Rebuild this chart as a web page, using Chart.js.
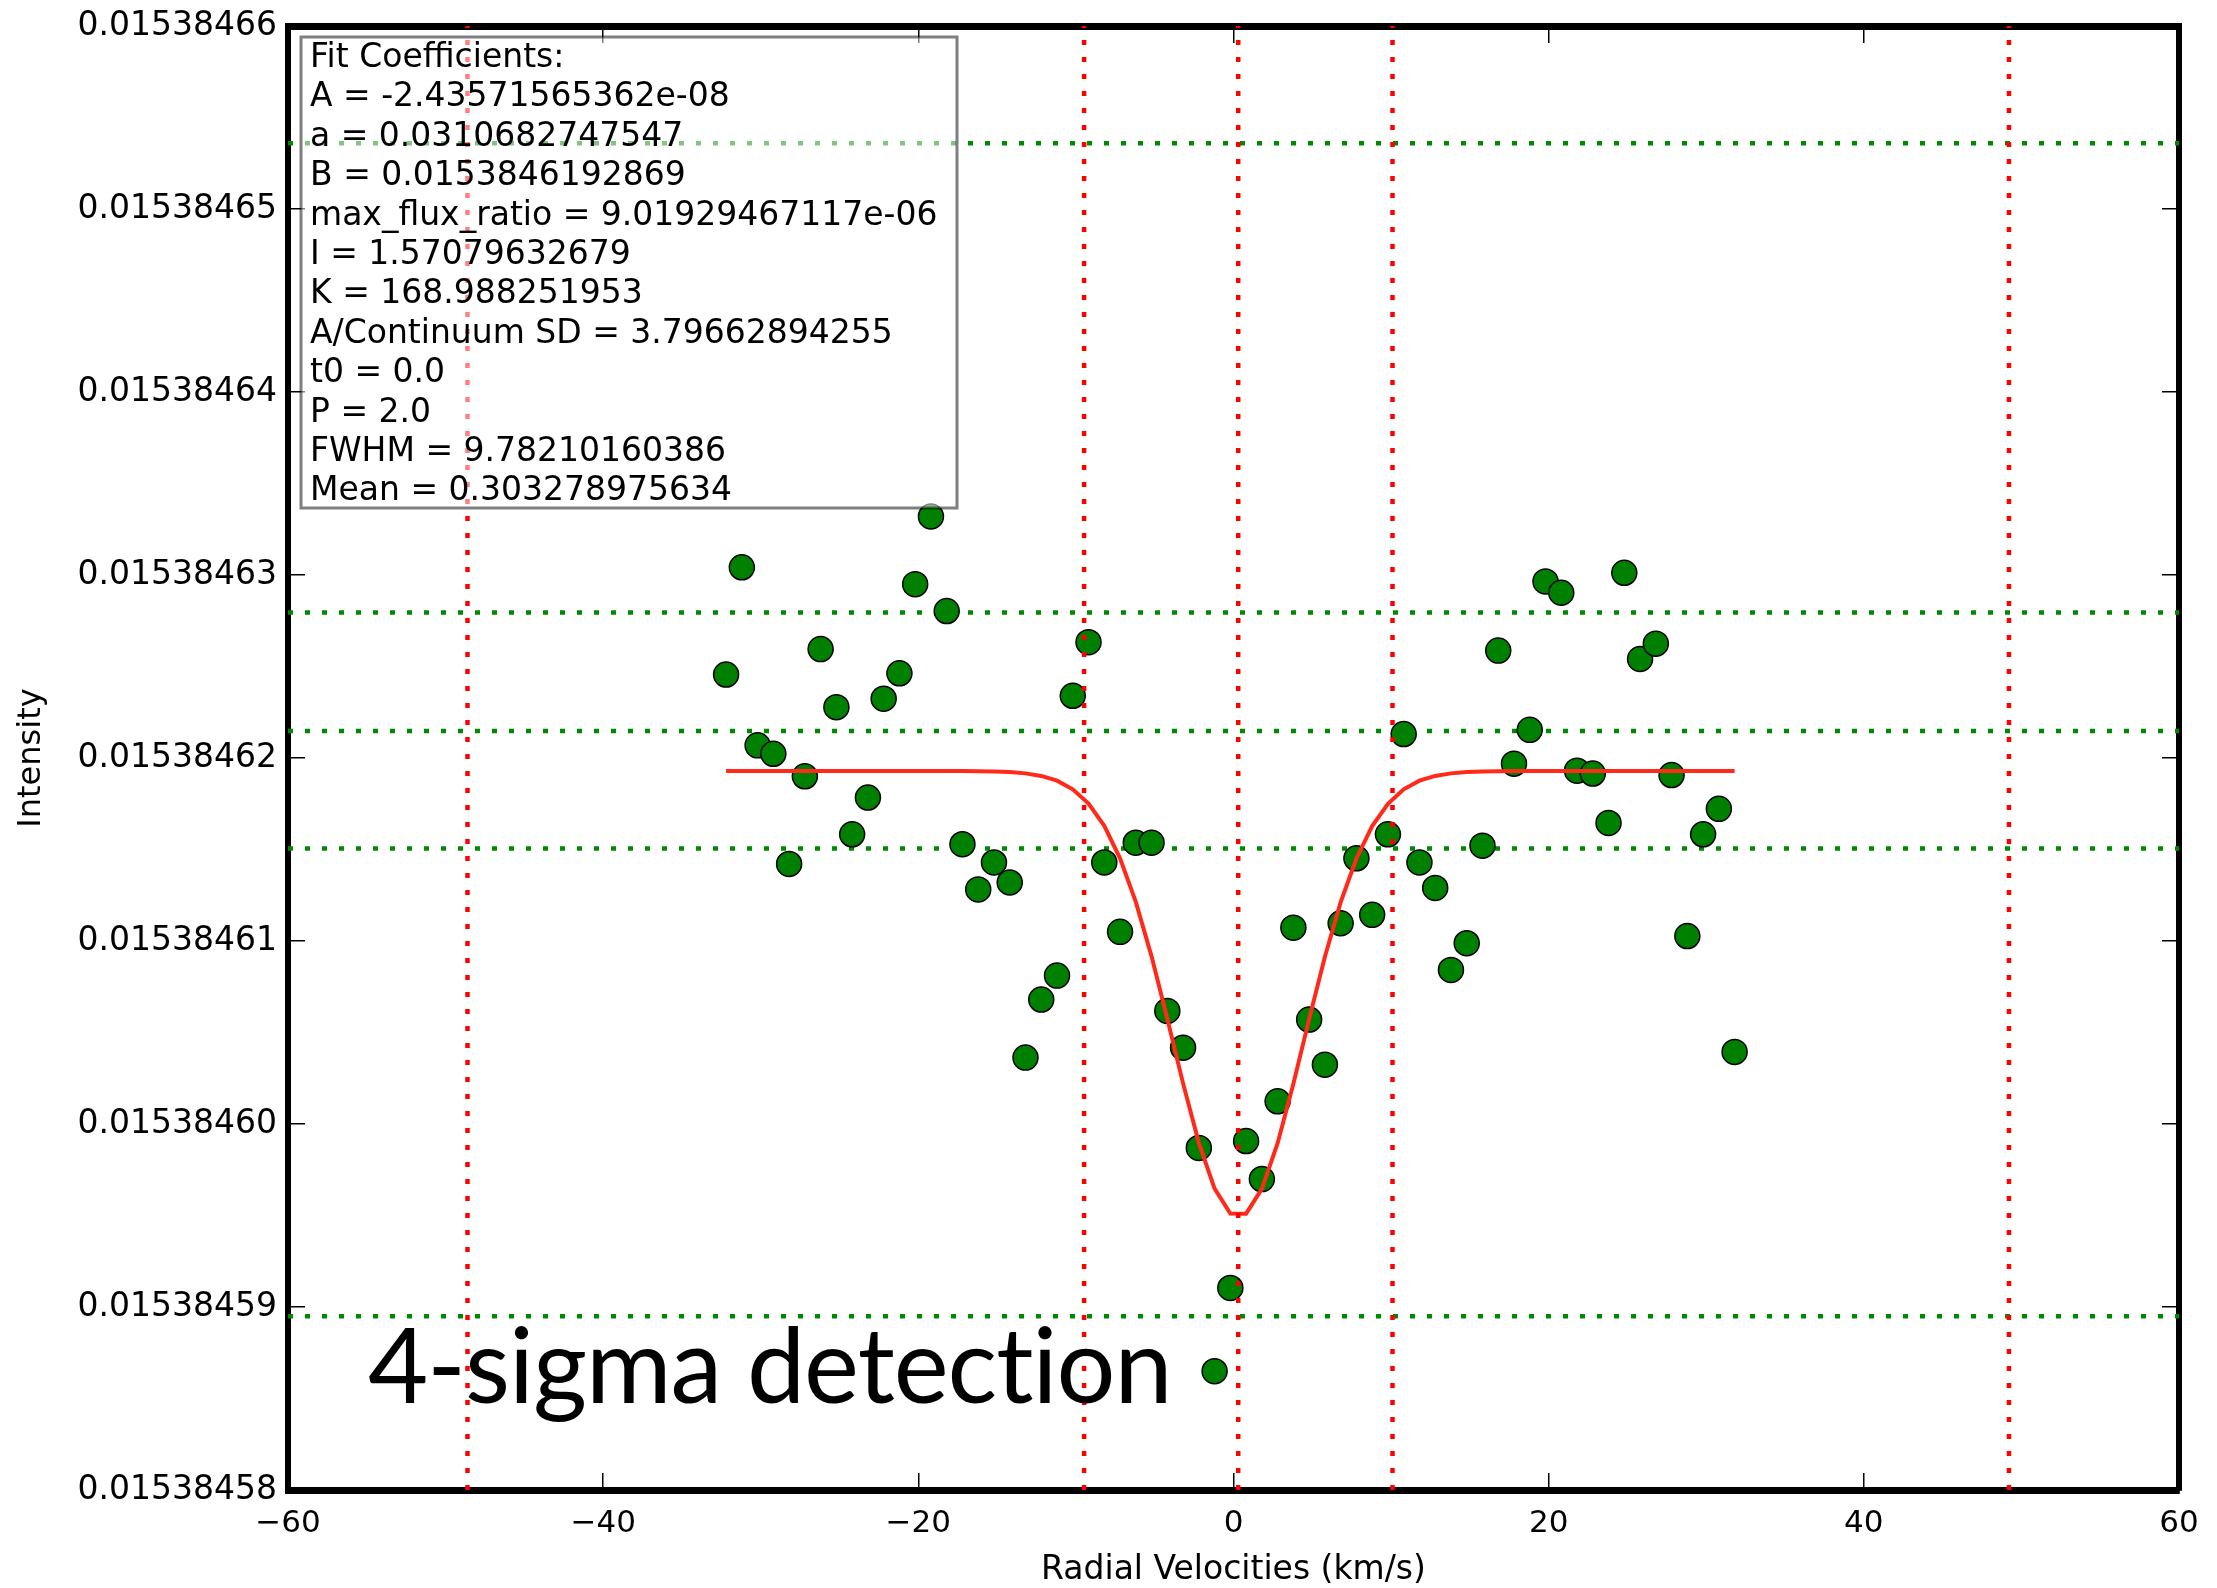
<!DOCTYPE html>
<html>
<head>
<meta charset="utf-8">
<title>Radial velocity fit</title>
<script src="https://cdn.jsdelivr.net/npm/chart.js@4.4.1/dist/chart.umd.min.js"></script>
<style>
  html, body { margin: 0; padding: 0; background: #fff; }
  canvas { display: block; }
</style>
</head>
<body>
<canvas id="rvChart" width="2217" height="1588"></canvas>
<script>
// radial velocity grid (km/s)
const velocities = [
    -32.2, -31.2, -30.2, -29.2, -28.2, -27.2, -26.2, -25.2, -24.2, -23.2,
    -22.2, -21.2, -20.2, -19.2, -18.2, -17.2, -16.2, -15.2, -14.2, -13.2,
    -12.2, -11.2, -10.2, -9.2, -8.2, -7.2, -6.2, -5.2, -4.2, -3.2,
    -2.2, -1.2, -0.2, 0.8, 1.8, 2.8, 3.8, 4.8, 5.8, 6.8,
    7.8, 8.8, 9.8, 10.8, 11.8, 12.8, 13.8, 14.8, 15.8, 16.8,
    17.8, 18.8, 19.8, 20.8, 21.8, 22.8, 23.8, 24.8, 25.8, 26.8,
    27.8, 28.8, 29.8, 30.8, 31.8
];

// measured intensity at each velocity
const intensity = [
    0.01538462456, 0.01538463042, 0.01538462069, 0.01538462023, 0.01538461421,
    0.01538461900, 0.01538462595, 0.01538462278, 0.01538461583, 0.01538461784,
    0.01538462324, 0.01538462463, 0.01538462950, 0.01538463320, 0.01538462803,
    0.01538461529, 0.01538461282, 0.01538461429, 0.01538461320, 0.01538460363,
    0.01538460680, 0.01538460811, 0.01538462340, 0.01538462633, 0.01538461429,
    0.01538461050, 0.01538461537, 0.01538461537, 0.01538460618, 0.01538460417,
    0.01538459869, 0.01538458649, 0.01538459104, 0.01538459907, 0.01538459699,
    0.01538460124, 0.01538461073, 0.01538460571, 0.01538460324, 0.01538461097,
    0.01538461452, 0.01538461143, 0.01538461583, 0.01538462131, 0.01538461429,
    0.01538461290, 0.01538460842, 0.01538460988, 0.01538461521, 0.01538462587,
    0.01538461969, 0.01538462154, 0.01538462965, 0.01538462903, 0.01538461931,
    0.01538461915, 0.01538461645, 0.01538463012, 0.01538462541, 0.01538462625,
    0.01538461907, 0.01538461027, 0.01538461583, 0.01538461722, 0.01538460394
];

// gaussian fit evaluated on the same grid
const fitCurve = [
    0.01538461929, 0.01538461929, 0.01538461929, 0.01538461929, 0.01538461929,
    0.01538461929, 0.01538461929, 0.01538461929, 0.01538461929, 0.01538461929,
    0.01538461929, 0.01538461929, 0.01538461929, 0.01538461929, 0.01538461929,
    0.01538461929, 0.01538461928, 0.01538461926, 0.01538461923, 0.01538461916,
    0.01538461902, 0.01538461876, 0.01538461829, 0.01538461751, 0.01538461629,
    0.01538461452, 0.01538461214, 0.01538460916, 0.01538460575, 0.01538460222,
    0.01538459897, 0.01538459647, 0.01538459511, 0.01538459510, 0.01538459646,
    0.01538459895, 0.01538460220, 0.01538460573, 0.01538460914, 0.01538461212,
    0.01538461451, 0.01538461628, 0.01538461750, 0.01538461829, 0.01538461876,
    0.01538461902, 0.01538461916, 0.01538461923, 0.01538461926, 0.01538461928,
    0.01538461929, 0.01538461929, 0.01538461929, 0.01538461929, 0.01538461929,
    0.01538461929, 0.01538461929, 0.01538461929, 0.01538461929, 0.01538461929,
    0.01538461929, 0.01538461929, 0.01538461929, 0.01538461929, 0.01538461929
];

// continuum mean, +/- 1 sigma and +/- 5 sigma
const sigmaLevels = [0.01538465359, 0.01538462795, 0.01538462147, 0.01538461506, 0.01538458950];
// mean, mean +/- FWHM, mean +/- 5 FWHM
const fwhmMarks = [-48.61, -9.48, 0.30, 10.09, 49.21];

const xTicks = [-60, -40, -20, 0, 20, 40, 60];
const yTicks = [
    0.01538458, 0.01538459, 0.01538460, 0.01538461, 0.01538462,
    0.01538463, 0.01538464, 0.01538465, 0.01538466
];

const fitLines = [
    "Fit Coefficients:",
    "A = -2.43571565362e-08",
    "a = 0.0310682747547",
    "B = 0.0153846192869",
    "max_flux_ratio = 9.01929467117e-06",
    "I = 1.57079632679",
    "K = 168.988251953",
    "A/Continuum SD = 3.79662894255",
    "t0 = 0.0",
    "P = 2.0",
    "FWHM = 9.78210160386",
    "Mean = 0.303278975634"
];

const xMin = xTicks[0], xMax = xTicks[xTicks.length - 1];
const yMin = yTicks[0], yMax = yTicks[yTicks.length - 1];

Chart.defaults.font.family = "'DejaVu Sans', sans-serif";
Chart.defaults.color = "#000";

function minusSign(v) {
    return v < 0 ? "\u2212" + Math.abs(v) : String(v);
}

// fixed axis sizes, no extra room for labels that hang over the ends
function fixSize(size) {
    return s => {
        if (s.isHorizontal()) s.height = size; else s.width = size;
        s.paddingTop = 0;
        s.paddingBottom = 0;
        s.paddingLeft = 0;
        s.paddingRight = 0;
    };
}

const tickGrid = {
    display: true,
    drawOnChartArea: false,
    drawTicks: true,
    tickLength: -17,
    color: "#000",
    lineWidth: 1.5
};

// text box with the fit coefficients, drawn over the lines
const fitBox = {
    id: "fitBox",
    afterDatasetsDraw(chart) {
        const ctx = chart.ctx;
        ctx.save();
        ctx.fillStyle = "rgba(255,255,255,0.5)";
        ctx.fillRect(301, 37, 656, 471);
        ctx.strokeStyle = "rgba(0,0,0,0.5)";
        ctx.lineWidth = 3;
        ctx.strokeRect(301, 37, 656, 471);
        ctx.fillStyle = "#000";
        ctx.font = "33px 'DejaVu Sans'";
        ctx.textBaseline = "alphabetic";
        fitLines.forEach((line, i) => {
            ctx.fillText(line, 310, 67 + i * 39.4);
        });
        ctx.restore();
    }
};

const detectionLabel = {
    id: "detectionLabel",
    afterDraw(chart) {
        const ctx = chart.ctx;
        ctx.save();
        ctx.fillStyle = "#000";
        ctx.font = "104px Lato";
        ctx.letterSpacing = "-1px";
        ctx.textBaseline = "alphabetic";
        ctx.fillText("4-sigma detection", 368, 1403);
        ctx.restore();
    }
};

const datasets = [];

sigmaLevels.forEach(level => {
    datasets.push({
        data: [{ x: xMin, y: level }, { x: xMax, y: level }],
        showLine: true,
        borderColor: "#008a00",
        borderWidth: 4.5,
        borderDash: [5, 12],
        pointRadius: 0,
        order: 4
    });
});

datasets.push({
    data: velocities.map((v, i) => ({ x: v, y: intensity[i] })),
    pointRadius: 12.5,
    pointBackgroundColor: "#008000",
    pointBorderColor: "#000",
    pointBorderWidth: 1.5,
    order: 3
});

datasets.push({
    data: velocities.map((v, i) => ({ x: v, y: fitCurve[i] })),
    showLine: true,
    borderColor: "#ff2a1a",
    borderWidth: 4,
    tension: 0,
    pointRadius: 0,
    order: 2
});

fwhmMarks.forEach(v => {
    datasets.push({
        data: [{ x: v, y: yMin }, { x: v, y: yMax }],
        showLine: true,
        borderColor: "#ff0000",
        borderWidth: 4.5,
        borderDash: [5, 12],
        pointRadius: 0,
        order: 1
    });
});

const ctx = document.getElementById("rvChart").getContext("2d");
new Chart(ctx, {
    type: "scatter",
    data: { datasets: datasets },
    options: {
        responsive: false,
        animation: false,
        devicePixelRatio: 1,
        events: [],
        layout: { padding: 0 },
        plugins: {
            legend: { display: false },
            tooltip: { enabled: false }
        },
        scales: {
            x: {
                type: "linear",
                position: "bottom",
                min: xMin,
                max: xMax,
                afterBuildTicks: s => { s.ticks = xTicks.map(v => ({ value: v })); },
                afterFit: fixSize(98),
                ticks: {
                    padding: 32,
                    maxRotation: 0,
                    font: { size: 31 },
                    callback: minusSign
                },
                grid: tickGrid,
                border: { display: true, color: "#000", width: 7 },
                title: {
                    display: true,
                    text: "Radial Velocities (km/s)",
                    font: { size: 33, lineHeight: 1.0 },
                    padding: { top: 0, bottom: 1 }
                }
            },
            x2: {
                type: "linear",
                position: "top",
                min: xMin,
                max: xMax,
                afterBuildTicks: s => { s.ticks = xTicks.map(v => ({ value: v })); },
                afterFit: fixSize(26),
                ticks: { display: false },
                grid: tickGrid,
                border: { display: true, color: "#000", width: 7 }
            },
            y: {
                type: "linear",
                position: "left",
                min: yMin,
                max: yMax,
                afterBuildTicks: s => { s.ticks = yTicks.map(v => ({ value: v })); },
                afterFit: fixSize(288),
                ticks: {
                    padding: 28,
                    font: { size: 33 },
                    callback: v => v.toFixed(8)
                },
                grid: tickGrid,
                border: { display: true, color: "#000", width: 6 },
                title: {
                    display: true,
                    text: "Intensity",
                    font: { size: 32, lineHeight: 1.2 },
                    padding: { top: 12, bottom: 0 }
                }
            },
            y2: {
                type: "linear",
                position: "right",
                min: yMin,
                max: yMax,
                afterBuildTicks: s => { s.ticks = yTicks.map(v => ({ value: v })); },
                afterFit: fixSize(38),
                ticks: { display: false },
                grid: tickGrid,
                border: { display: true, color: "#000", width: 6 }
            }
        }
    },
    plugins: [fitBox, detectionLabel]
});
</script>
</body>
</html>
